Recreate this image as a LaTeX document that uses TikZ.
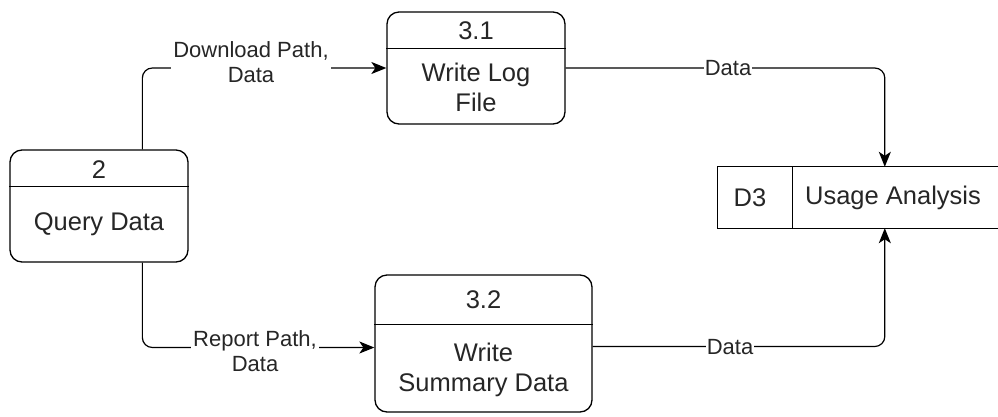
\documentclass[tikz,border=0pt]{standalone}
\usepackage{fontspec}
\setmainfont{Liberation Sans}
\usetikzlibrary{arrows.meta,calc}
\begin{document}
\begin{tikzpicture}[x=1pt,y=-1pt,
  proc/.style={draw, line width=1.3pt, rounded corners=12pt, inner sep=0pt},
  ntext/.style={font=\fontsize{25.5}{30}\selectfont, align=center, inner sep=0pt, text=black!85},
  flow/.style={line width=1.2pt, rounded corners=10pt, -{Stealth[length=15pt,width=12pt,inset=4pt]}},
  lbl/.style={font=\fontsize{22}{25}\selectfont, align=center, fill=white, inner sep=2pt, text=black!85},
  store/.style={line width=1.3pt}]
\useasboundingbox (0,0) rectangle (998,416);
\fill[white] (0,0) rectangle (998,416);

% Process 2
\node[proc, minimum width=178pt, minimum height=112pt] (q) at (99,206) {};
\draw[line width=1.3pt] ($(q.north west)+(0,37)$) coordinate (qdl) -- ($(q.north east)+(0,37)$) coordinate (qdr);
\node[ntext] (qn) at (99,170) {2};
\node[ntext] (qt) at (99,224) {Query Data};

% Process 3.1
\node[proc, minimum width=178pt, minimum height=112pt] (a) at (476,68) {};
\draw[line width=1.3pt] ($(a.north west)+(0,37)$) coordinate (adl) -- ($(a.north east)+(0,37)$) coordinate (adr);
\node[ntext] (an) at (476,31) {3.1};
\node[ntext] (at1) at (476,87) {Write Log\\File};

% Process 3.2
\node[proc, minimum width=217pt, minimum height=137pt] (b) at (483.5,343.5) {};
\draw[line width=1.3pt] ($(b.north west)+(0,50)$) coordinate (bdl) -- ($(b.north east)+(0,50)$) coordinate (bdr);
\node[ntext] (bn) at (483.5,300) {3.2};
\node[ntext] (bt) at (483.5,370) {Write\\Summary Data};

% Data store D3
\node[minimum width=280pt, minimum height=61pt, inner sep=0pt] (d) at (858,197.5) {};
\draw[store] (d.north east) -- (d.north west) -- (d.south west) -- (d.south east);
\draw[store] ($(d.north west)+(75,0)$) coordinate (ddt) -- ($(d.south west)+(75,0)$) coordinate (ddb);
\node[ntext] (dn) at (750,198) {D3};
\node[ntext] (dt) at (893,198) {Usage Analysis};

% Connector endpoints
\coordinate (qtop) at ($(q.north west)+(133,0)$);
\coordinate (qbot) at ($(q.south west)+(133,0)$);
\coordinate (bin) at ($(b.west)+(0,4)$);
\coordinate (bout) at ($(b.east)+(0,3)$);
\coordinate (dtop) at ($(d.north west)+(167,0)$);
\coordinate (dbot) at ($(d.south west)+(167,0)$);

% Connectors
\draw[flow] (qtop) |- (a.west);
\draw[flow] (qbot) |- (bin);
\draw[flow] (a.east) -| (dtop);
\draw[flow] (bout) -| (dbot);

% Labels
\node[lbl] (l1) at (251,62) {Download Path,\\Data};
\node[lbl] (l2) at (255,351) {Report Path,\\Data};
\node[lbl, inner sep=1pt] (l3) at (728,68) {Data};
\node[lbl, inner sep=1pt] (l4) at (730,347) {Data};
\end{tikzpicture}
\end{document}
